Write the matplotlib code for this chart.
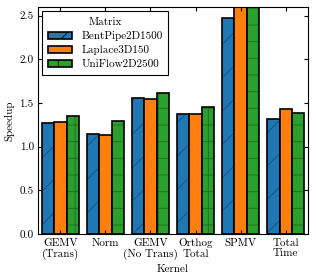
import numpy as np
import matplotlib
matplotlib.use("Agg")
import matplotlib.pyplot as plt

plt.rcParams['font.family'] = ['cmr10', 'DejaVu Serif']
plt.rcParams['axes.formatter.use_mathtext'] = True
plt.rcParams['font.size'] = 8
plt.rcParams['hatch.linewidth'] = 0.6

kernels = ["GEMV\n(Trans)", "Norm", "GEMV\n(No Trans)", "Orthog\nTotal", "SPMV", "Total\nTime"]
matrices = ["BentPipe2D1500", "Laplace3D150", "UniFlow2D2500"]
bentpipe = [1.27, 1.15, 1.56, 1.37, 2.47, 1.315]
laplace = [1.28, 1.135, 1.545, 1.37, 2.9, 1.43]
uniflow = [1.355, 1.295, 1.61, 1.45, 2.9, 1.385]

colors = ["#1f77b4", "#ff7f0e", "#2ca02c"]
hatch_cols = ["#16507e", "#ff7f0e", "#1d6e1d"]
hatches = ["/", "", "+"]

fig = plt.figure(figsize=(3.16, 2.8), dpi=100)
ax = fig.add_axes([0.12, 0.164, 0.855, 0.811])

x = np.arange(len(kernels))
w = 0.27
for i, vals in enumerate([bentpipe, laplace, uniflow]):
    pos = x + (i - 1) * w
    # fill with hatch in darker shade, then black outline on top
    ax.bar(pos, vals, w, color=colors[i], edgecolor=hatch_cols[i], hatch=hatches[i], linewidth=0)
    ax.bar(pos, vals, w, facecolor="none", edgecolor="black", linewidth=1.2)
    ax.bar(0, 0, 0, color=colors[i], edgecolor="black", linewidth=1.2, hatch=hatches[i], label=matrices[i])

ax.set_xlim(-0.5, 5.5)
ax.set_ylim(0, 2.6)
ax.set_xticks(x)
ax.set_xticklabels(kernels, linespacing=1.15)
ax.set_yticks([0.0, 0.5, 1.0, 1.5, 2.0, 2.5])
ax.yaxis.set_major_formatter(matplotlib.ticker.FormatStrFormatter('%.1f'))
ax.tick_params(direction="in", top=True, right=True, length=3, pad=3)
ax.set_xlabel("Kernel", labelpad=3)
ax.set_ylabel("Speedup", labelpad=4)

leg = ax.legend(title="Matrix", loc="upper left", fancybox=False, edgecolor="black",
                framealpha=1, borderaxespad=0.4, handlelength=2.2, handleheight=0.6,
                labelspacing=0.4, borderpad=0.5)
leg.get_frame().set_linewidth(0.8)

fig.savefig("out.png", dpi=100)
